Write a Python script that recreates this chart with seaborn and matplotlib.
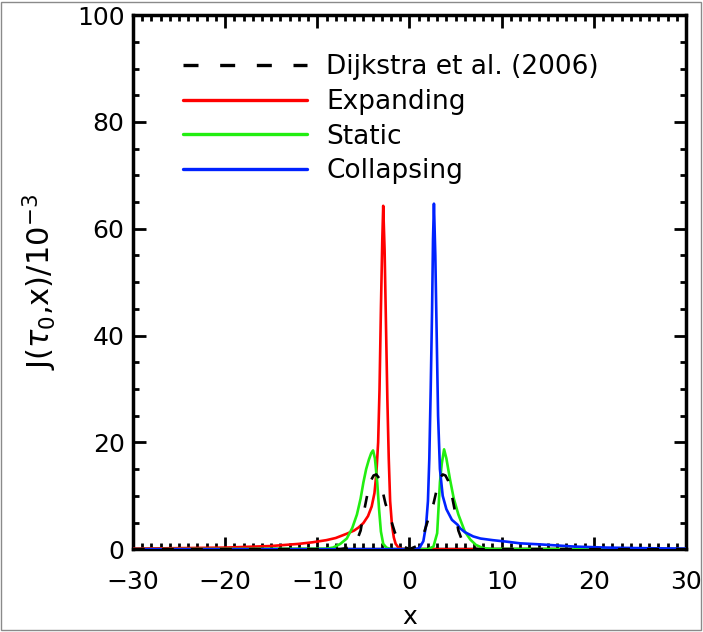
import numpy as np
import pandas as pd
import seaborn as sns
import matplotlib
matplotlib.use("Agg")
import matplotlib.pyplot as plt
from matplotlib.ticker import MultipleLocator
from matplotlib.patches import Rectangle

# ---------------- data ----------------
dijkstra_x = [-30, -7.5, -6.5, -5.8, -5.3, -5.0, -4.6, -4.2, -3.9, -3.6, -3.3, -3.0, -2.6, -2.1,
              -1.6, -1.2, -0.8, 0, 0.8, 1.2, 1.6, 2.1, 2.6, 3.0, 3.3, 3.6, 3.9, 4.2, 4.6, 5.0,
              5.3, 5.8, 6.5, 7.5, 30]
dijkstra_y = [0, 0, 0.3, 1.2, 3.5, 6.5, 10, 12.8, 13.8, 14, 13.3, 11.5, 8.5, 6,
              3.2, 1.7, 0.6, 0, 0.6, 1.7, 3.2, 6, 8.5, 11.5, 13.3, 14, 13.8, 12.8, 10, 6.5,
              3.5, 1.2, 0.3, 0, 0]

expanding_x = [-30, -25, -20, -15, -12, -10.5, -9, -8, -6.8, -6.0, -5.5, -5.0, -4.5, -4.1, -3.8,
               -3.6, -3.4, -3.25, -3.1, -2.95, -2.85, -2.7, -2.55, -2.4, -2.25, -2.1, -1.9, -1.7,
               -1.5, -1.2, -0.8, 0, 30]
expanding_y = [0.1, 0.2, 0.3, 0.6, 1.0, 1.3, 1.7, 2.1, 2.9, 3.5, 4.1, 4.9, 6.2, 8.0, 10.5,
               14, 20, 30, 45, 58, 64.3, 56, 42, 28, 17, 9, 4.5, 2.2,
               1.0, 0.3, 0.05, 0, 0]

static_x = [-30, -9, -8.3, -7.5, -6.8, -6.2, -5.7, -5.3, -5.0, -4.7, -4.4, -4.15, -3.95, -3.75,
            -3.5, -3.3, -3.1, -2.85, -2.5, -2.0, 2.0, 2.6, 3.0, 3.3, 3.5, 3.75, 4.0, 4.4, 4.8,
            5.3, 6.0, 6.6, 7.2, 8.0, 9.0, 30]
static_y = [0, 0.1, 0.3, 1.0, 2.0, 4.0, 6.5, 9.5, 12.5, 15, 16.8, 18, 18.5, 17,
            12.5, 7.5, 3.3, 1.0, 0.3, 0, 0, 0.5, 3.0, 12.5, 16, 18.7, 17, 13, 9.5,
            6.5, 3.3, 1.8, 0.8, 0.2, 0.05, 0]

collapsing_x = [-30, 0, 0.8, 1.1, 1.5, 1.8, 2.0, 2.15, 2.3, 2.45, 2.55, 2.65, 2.8, 2.95, 3.1,
                3.3, 3.6, 4.0, 4.6, 5.2, 5.5, 6.0, 6.9, 7.7, 9.0, 10.6, 12, 14.2, 17.8, 21.4,
                25, 30]
collapsing_y = [0, 0, 0.05, 0.3, 1.5, 4.5, 9, 17, 30, 45, 58, 64.7, 55, 40, 25,
                15, 10, 7.5, 5.5, 4.6, 3.9, 3.2, 2.4, 2.0, 1.7, 1.4, 1.1, 0.9, 0.5, 0.3,
                0.2, 0.1]

labels = ["Dijkstra et al. (2006)", "Expanding", "Static", "Collapsing"]
colors = ["black", "#ff0000", "#22ee11", "#0022ff"]

x_ticks = [-30, -20, -10, 0, 10, 20, 30]
y_ticks = [0, 20, 40, 60, 80, 100]

# ---------------- plot ----------------
sns.set_style("white")
plt.rcParams["font.family"] = ["DejaVu Sans"]
plt.rcParams["mathtext.fontset"] = "dejavusans"
plt.rcParams["text.color"] = "black"
plt.rcParams["axes.labelcolor"] = "black"
plt.rcParams["xtick.color"] = "black"
plt.rcParams["ytick.color"] = "black"

fig = plt.figure(figsize=(7.03, 6.32), dpi=100)
ax = fig.add_axes([0.189, 0.131, 0.787, 0.845])

series = [
    (dijkstra_x, dijkstra_y),
    (expanding_x, expanding_y),
    (static_x, static_y),
    (collapsing_x, collapsing_y),
]
zorders = [6, 3, 4, 5]
dash = (0, (4.5, 6.5))
for (xs, ys), lab, col, zo in zip(series, labels, colors, zorders):
    df = pd.DataFrame({"x": xs, "y": ys})
    kw = dict(linestyle=dash) if lab.startswith("Dijkstra") else {}
    sns.lineplot(data=df, x="x", y="y", ax=ax, color=col, label=lab,
                 linewidth=1.9, estimator=None, sort=False, zorder=zo, **kw)

ax.set_xlim(-30, 30)
ax.set_ylim(0, 100)
ax.set_xticks(x_ticks)
ax.set_yticks(y_ticks)
ax.xaxis.set_minor_locator(MultipleLocator(1))
ax.yaxis.set_minor_locator(MultipleLocator(5))
ax.tick_params(which="both", direction="in", top=True, right=True, bottom=True, left=True,
               width=2.0, color="black", labelsize=18, labelcolor="black")
ax.tick_params(which="major", length=9)
ax.tick_params(which="minor", length=4.5)
ax.tick_params(axis="x", which="both", pad=15)
ax.tick_params(axis="y", which="both", pad=6)
for sp in ax.spines.values():
    sp.set_linewidth(2.5)
    sp.set_color("black")

ax.set_xlabel("x", fontsize=18, labelpad=8)
ax.set_ylabel(r"$\mathrm{J}(\tau_0{,}\mathrm{x})/10^{-3}$", fontsize=22, labelpad=13)

leg = ax.legend(loc="upper left", bbox_to_anchor=(0.09, 0.927), frameon=False,
                fontsize=19, handlelength=4.7, handletextpad=0.75, labelspacing=0.33,
                borderpad=0, borderaxespad=0)
for h in leg.get_lines():
    h.set_linewidth(2.4)

fig.patches.append(Rectangle((0.002, 0.003), 0.995, 0.994, transform=fig.transFigure,
                             fill=False, edgecolor="#8a8a8a", linewidth=1.0))

fig.savefig("out.png", dpi=100, facecolor="white")
